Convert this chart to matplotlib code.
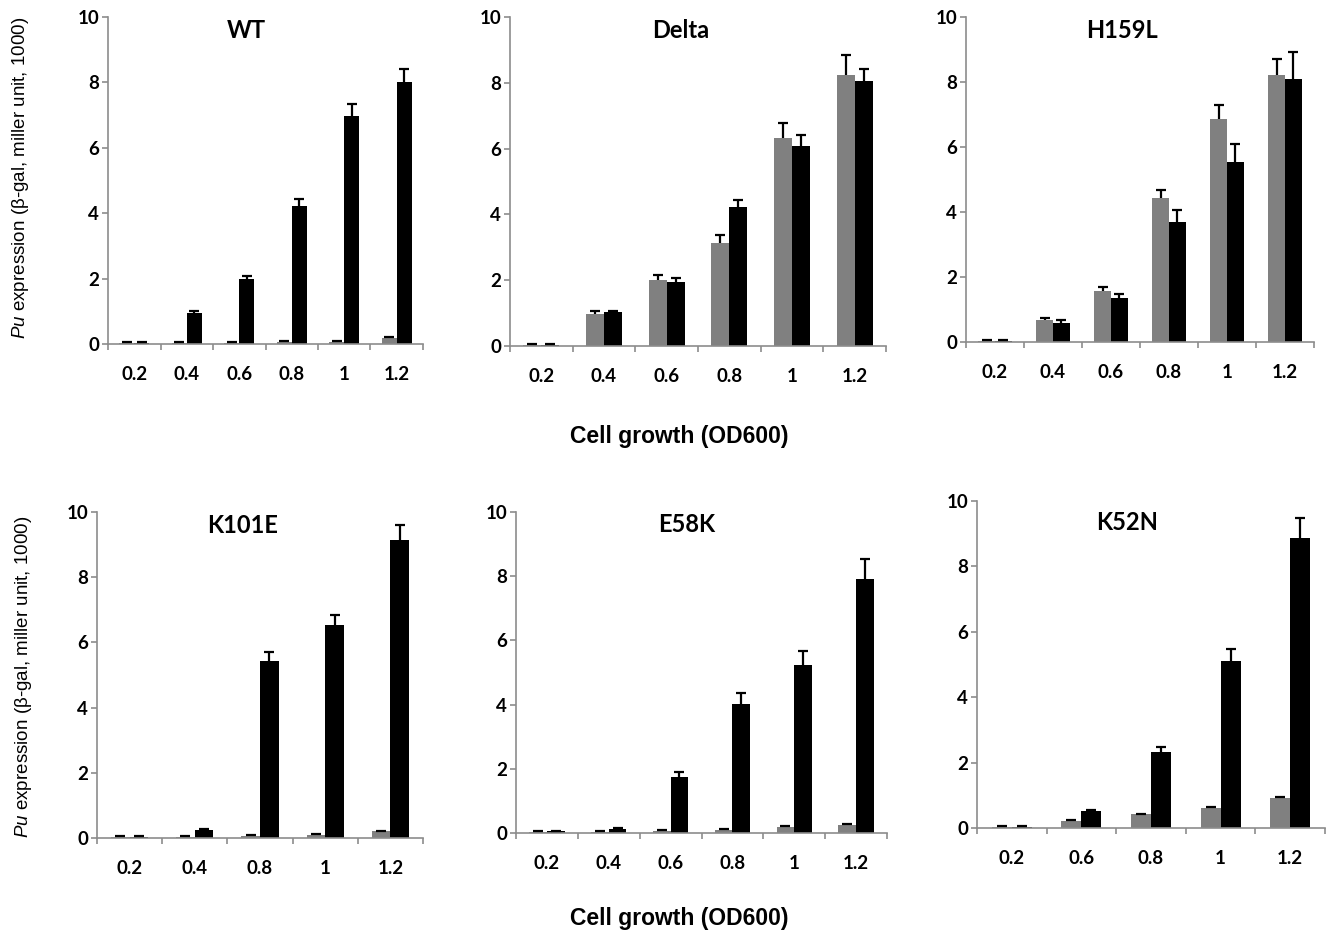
"""Pu expression vs cell growth for WT and mutant strains (6 panels)."""

import matplotlib
matplotlib.use("Agg")
import matplotlib.pyplot as plt
import numpy as np

plt.rcParams["mathtext.fontset"] = "custom"
plt.rcParams["mathtext.it"] = "Liberation Sans:italic"
plt.rcParams["mathtext.rm"] = "Liberation Sans"

# ---- data (values in miller units / 1000) ----
PANELS = ["WT", "Delta", "H159L", "K101E", "E58K", "K52N"]

wt_od = ["0.2", "0.4", "0.6", "0.8", "1", "1.2"]
wt_gray = [0.03, 0.03, 0.03, 0.07, 0.07, 0.18]
wt_gray_err = [0.02, 0.02, 0.02, 0.03, 0.03, 0.04]
wt_black = [0.03, 0.95, 1.98, 4.22, 6.97, 8.02]
wt_black_err = [0.02, 0.05, 0.10, 0.21, 0.36, 0.39]

delta_od = ["0.2", "0.4", "0.6", "0.8", "1", "1.2"]
delta_gray = [0.03, 0.97, 2.00, 3.12, 6.33, 8.24]
delta_gray_err = [0.03, 0.09, 0.16, 0.24, 0.45, 0.60]
delta_black = [0.03, 1.02, 1.95, 4.23, 6.09, 8.04]
delta_black_err = [0.02, 0.05, 0.13, 0.20, 0.33, 0.39]

h159l_od = ["0.2", "0.4", "0.6", "0.8", "1", "1.2"]
h159l_gray = [0.04, 0.67, 1.57, 4.42, 6.86, 8.22]
h159l_gray_err = [0.02, 0.07, 0.12, 0.27, 0.42, 0.50]
h159l_black = [0.04, 0.60, 1.34, 3.68, 5.55, 8.10]
h159l_black_err = [0.02, 0.09, 0.14, 0.37, 0.55, 0.82]

k101e_od = ["0.2", "0.4", "0.8", "1", "1.2"]
k101e_gray = [0.03, 0.03, 0.07, 0.08, 0.20]
k101e_gray_err = [0.02, 0.02, 0.03, 0.03, 0.03]
k101e_black = [0.03, 0.25, 5.43, 6.52, 9.13]
k101e_black_err = [0.02, 0.03, 0.28, 0.33, 0.48]

e58k_od = ["0.2", "0.4", "0.6", "0.8", "1", "1.2"]
e58k_gray = [0.03, 0.04, 0.06, 0.09, 0.20, 0.25]
e58k_gray_err = [0.02, 0.02, 0.02, 0.02, 0.03, 0.03]
e58k_black = [0.05, 0.13, 1.74, 4.03, 5.22, 7.92]
e58k_black_err = [0.02, 0.03, 0.15, 0.32, 0.44, 0.62]

k52n_od = ["0.2", "0.6", "0.8", "1", "1.2"]
k52n_gray = [0.03, 0.21, 0.42, 0.61, 0.92]
k52n_gray_err = [0.02, 0.02, 0.02, 0.03, 0.04]
k52n_black = [0.03, 0.52, 2.33, 5.12, 8.87]
k52n_black_err = [0.02, 0.03, 0.16, 0.36, 0.61]

DATA = [
    (wt_od, wt_gray, wt_gray_err, wt_black, wt_black_err),
    (delta_od, delta_gray, delta_gray_err, delta_black, delta_black_err),
    (h159l_od, h159l_gray, h159l_gray_err, h159l_black, h159l_black_err),
    (k101e_od, k101e_gray, k101e_gray_err, k101e_black, k101e_black_err),
    (e58k_od, e58k_gray, e58k_gray_err, e58k_black, e58k_black_err),
    (k52n_od, k52n_gray, k52n_gray_err, k52n_black, k52n_black_err),
]

# ---- layout (pixel boxes: x0, y_top, x1, y_bottom) ----
W, H = 1326, 931
BOXES = [
    (108, 17, 423, 344),
    (510, 17, 886, 346),
    (966, 17, 1314, 342),
    (97, 512, 423, 838),
    (516, 512, 887, 833),
    (977, 501, 1325, 828),
]
TITLE_POS = [(0.44, 0.96), (0.455, 0.96), (0.448, 0.96),
             (0.445, 0.96), (0.46, 0.96), (0.43, 0.935)]

GRAY = "#808080"
AXIS_COLOR = "#8c8c8c"
TICK_FONT = dict(family="Lato", weight="bold", size=13.5)
BAR_W = 0.286

fig = plt.figure(figsize=(W / 100, H / 100), dpi=100)

for name, box, tpos, (cats, g, ge, b, be) in zip(PANELS, BOXES, TITLE_POS, DATA):
    x0, yt, x1, yb = box
    ax = fig.add_axes([x0 / W, 1 - yb / H, (x1 - x0) / W, (yb - yt) / H])
    x = np.arange(len(cats))
    g, ge, b, be = map(np.asarray, (g, ge, b, be))

    for offs, vals, errs, col in ((-BAR_W / 2, g, ge, GRAY), (BAR_W / 2, b, be, "black")):
        ax.bar(x + offs, vals, BAR_W, color=col, zorder=2)
        ax.vlines(x + offs, vals, vals + errs, color="black", lw=1.6, zorder=3)
        ax.plot(x + offs, vals + errs, ls="none", marker="_", ms=7, mew=1.6,
                color="black", zorder=3)

    ax.set_xlim(-0.5, len(cats) - 0.5)
    ax.set_ylim(0, 10)
    ax.set_yticks(np.arange(0, 11, 2))
    ax.set_yticklabels([str(v) for v in range(0, 11, 2)], fontdict=TICK_FONT)
    ax.set_xticks(np.arange(len(cats) + 1) - 0.5)
    ax.set_xticklabels([])
    ax.set_xticks(x, minor=True)
    ax.set_xticklabels(cats, minor=True, fontdict=TICK_FONT)
    ax.tick_params(axis="x", which="minor", length=0, pad=16)
    ax.tick_params(axis="both", which="major", length=4.5, width=1.2,
                   color=AXIS_COLOR, pad=2)
    for side in ("top", "right"):
        ax.spines[side].set_visible(False)
    for side in ("left", "bottom"):
        ax.spines[side].set_color(AXIS_COLOR)
        ax.spines[side].set_linewidth(1.2)
    ax.patch.set_visible(False)

    ax.text(tpos[0], tpos[1], name, transform=ax.transAxes, ha="center",
            va="center", family="Lato", weight="bold", size=17)

ylabel = r"$\it{Pu}$ expression (β-gal, miller unit, 1000)"
for yc, xc in ((178, 21), (677, 24)):
    fig.text(xc / W, 1 - yc / H, ylabel, rotation=90, ha="center", va="center",
             family="Liberation Sans", size=13.5)

for yc in (436, 919):
    fig.text(679 / W, 1 - yc / H, "Cell growth (OD600)", ha="center", va="center",
             family="Liberation Sans", weight="bold", size=16.5)

fig.savefig("out.png", dpi=100)
